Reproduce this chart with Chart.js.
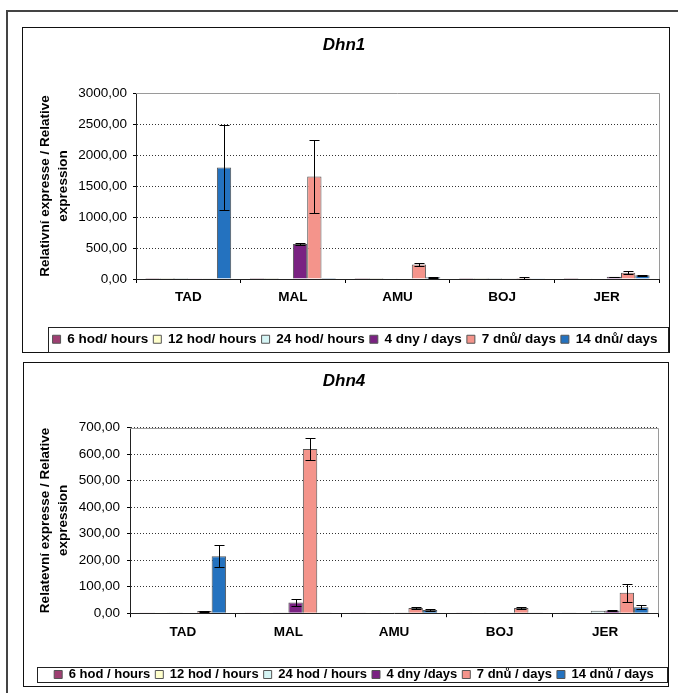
<!DOCTYPE html>
<html>
<head>
<meta charset="utf-8">
<script src="https://cdn.jsdelivr.net/npm/chart.js@4.4.0/dist/chart.umd.min.js"></script>
<style>
body { margin: 0; background: #fff; width: 678px; height: 693px; overflow: hidden; position: relative; }
.frame { position: absolute; left: 6px; top: 10px; width: 720px; height: 720px; border-left: 2px solid #444; border-top: 2px solid #444; }
.panel { position: absolute; box-sizing: border-box; border: 1px solid #111; }
canvas { position: absolute; }
</style>
</head>
<body>
<div class="frame"></div>
<div class="panel" style="left:22px;top:27px;width:648px;height:326px"></div>
<div class="panel" style="left:23px;top:362px;width:646px;height:325px"></div>
<canvas id="dhn1" width="647" height="329" style="left:22px;top:27px"></canvas>
<canvas id="dhn4" width="645" height="329" style="left:23px;top:362px"></canvas>
<script>
const categories = ['TAD', 'MAL', 'AMU', 'BOJ', 'JER'];
const legendDhn1 = ['6 hod/ hours', '12 hod/ hours', '24 hod/ hours', '4 dny / days', '7 dnů/ days', '14 dnů/ days'];
const legendDhn4 = ['6 hod / hours', '12 hod / hours', '24 hod / hours', '4 dny /days', '7 dnů / days', '14 dnů / days'];
const seriesColors = ['#9e3f72', '#ffffcc', '#d5f5f5', '#7a2282', '#f4948b', '#2472bf'];

const dhn1Ticks = [0, 500, 1000, 1500, 2000, 2500, 3000];
const dhn4Ticks = [0, 100, 200, 300, 400, 500, 600, 700];

// Dhn1 - values per category (TAD, MAL, AMU, BOJ, JER)
const dhn1Hod6 = [1, 1, 1, 1, 2];
const dhn1Hod12 = [1, 2, 1, 1, 3];
const dhn1Hod24 = [2, 10, 3, 2, 8];
const dhn1Dny4 = [3, 565, 8, 5, 35];
const dhn1Dny7 = [5, 1655, 235, 15, 100];
const dhn1Dny14 = [1800, 2, 30, 3, 60];
const dhn1ErrDny4 = [0, 20, 0, 0, 5];
const dhn1ErrDny7 = [0, 595, 20, 15, 25];
const dhn1ErrDny14 = [680, 0, 10, 0, 8];

// Dhn4
const dhn4Hod6 = [0.5, 0.5, 0.5, 0.5, 1];
const dhn4Hod12 = [0.5, 0.5, 0.5, 0.5, 2];
const dhn4Hod24 = [1, 1, 0.5, 0.5, 9];
const dhn4Dny4 = [1.5, 40, 1, 1, 10];
const dhn4Dny7 = [8, 620, 20, 20, 77];
const dhn4Dny14 = [215, 1, 12, 1, 22];
const dhn4ErrDny4 = [0, 12, 0, 0, 3];
const dhn4ErrDny7 = [2, 42, 4, 4, 33];
const dhn4ErrDny14 = [42, 0, 2, 0, 8];

const fontFamily = '"Liberation Sans", Arial, sans-serif';

const errorBars = {
    id: 'errorBars',
    afterDatasetsDraw(chart) {
        const { ctx } = chart;
        const y = chart.scales.y;
        ctx.save();
        ctx.strokeStyle = '#000';
        ctx.lineWidth = 1;
        chart.data.datasets.forEach((ds, i) => {
            if (!ds.errors) return;
            chart.getDatasetMeta(i).data.forEach((bar, j) => {
                const e = ds.errors[j];
                if (!e) return;
                const v = ds.data[j];
                const x = Math.round(bar.x) + 0.5;
                const top = Math.round(y.getPixelForValue(v + e)) + 0.5;
                const bot = Math.round(y.getPixelForValue(Math.max(v - e, 0))) + 0.5;
                ctx.beginPath();
                ctx.moveTo(x, top); ctx.lineTo(x, bot);
                ctx.moveTo(x - 5, top); ctx.lineTo(x + 5, top);
                ctx.moveTo(x - 5, bot); ctx.lineTo(x + 5, bot);
                ctx.stroke();
            });
        });
        ctx.restore();
    }
};

const frameBits = {
    id: 'frameBits',
    afterLayout(chart, args, opts) {
        chart.legend.left += opts.legendShift;
        chart.legend.right += opts.legendShift;
    },
    beforeDatasetsDraw(chart) {
        const { ctx, chartArea: a } = chart;
        ctx.save();
        ctx.strokeStyle = '#9a9a9a';
        ctx.lineWidth = 1;
        ctx.beginPath();
        ctx.moveTo(a.left, Math.round(a.top) + 0.5);
        ctx.lineTo(Math.round(a.right) + 0.5, Math.round(a.top) + 0.5);
        ctx.lineTo(Math.round(a.right) + 0.5, a.bottom);
        ctx.stroke();
        ctx.restore();
    },
    afterDraw(chart, args, opts) {
        const b = opts.legendBox;
        const ctx = chart.ctx;
        ctx.save();
        ctx.strokeStyle = '#222';
        ctx.lineWidth = 1;
        ctx.strokeRect(b[0] + 0.5, b[1] + 0.5, b[2] - b[0], b[3] - b[1]);
        ctx.restore();
    }
};

function makeChart(id, s) {
    const datasets = s.labels.map((label, i) => ({
        label: label,
        data: s.values[i],
        errors: s.errors[i],
        backgroundColor: seriesColors[i],
        borderColor: '#555',
        borderWidth: 1,
        categoryPercentage: 0.82,
        barPercentage: 1
    }));

    return new Chart(document.getElementById(id), {
        type: 'bar',
        data: { labels: categories, datasets: datasets },
        plugins: [errorBars, frameBits],
        options: {
            responsive: false,
            animation: false,
            layout: { padding: { left: 7, right: 10, top: 0, bottom: 0 } },
            scales: {
                x: {
                    afterFit: (scale) => { scale.height = s.xHeight; },
                    grid: { display: true, offset: true, drawOnChartArea: false, tickLength: 4, color: '#000' },
                    border: { color: '#222', width: 1 },
                    ticks: { color: '#000', padding: s.xPad, font: { family: fontFamily, size: 13.5, weight: 'bold' } }
                },
                y: {
                    min: 0,
                    max: s.ticks[s.ticks.length - 1],
                    afterFit: (scale) => { scale.width = s.yWidth; },
                    afterBuildTicks: (scale) => { scale.ticks = s.ticks.map(v => ({ value: v })); },
                    grid: { color: '#333', tickLength: 3, tickColor: '#000', tickBorderDash: [] },
                    border: { color: '#222', width: 1, dash: [1, 2] },
                    ticks: {
                        color: '#000',
                        padding: s.yPad,
                        font: { family: fontFamily, size: 13.5 },
                        callback: (v) => Number(v).toFixed(2).replace('.', ',')
                    },
                    title: {
                        display: true,
                        text: s.yTitle,
                        color: '#000',
                        padding: { top: s.yTitlePad, bottom: 0 },
                        font: { family: fontFamily, size: 13.5, weight: 'bold', lineHeight: 1.34 }
                    }
                }
            },
            plugins: {
                title: {
                    display: true,
                    text: s.title,
                    color: '#000',
                    padding: { top: s.titlePad[0], bottom: s.titlePad[1] },
                    font: { family: fontFamily, size: 17, weight: 'bold', style: 'italic', lineHeight: 1.2 }
                },
                legend: {
                    position: 'bottom',
                    labels: {
                        color: '#000',
                        boxWidth: 8,
                        boxHeight: 8,
                        padding: 5,
                        font: { family: fontFamily, size: s.legendSize, weight: 'bold' }
                    }
                },
                tooltip: { enabled: false },
                frameBits: { legendShift: s.legendShift, legendBox: s.legendBox }
            }
        }
    });
}

makeChart('dhn1', {
    title: 'Dhn1',
    labels: legendDhn1,
    values: [dhn1Hod6, dhn1Hod12, dhn1Hod24, dhn1Dny4, dhn1Dny7, dhn1Dny14],
    errors: [null, null, null, dhn1ErrDny4, dhn1ErrDny7, dhn1ErrDny14],
    ticks: dhn1Ticks,
    yTitle: ['Relativní expresse / Relative', 'expression'],
    yTitlePad: 7,
    yWidth: 107,
    yPad: 6,
    xHeight: 48.5,
    xPad: 6,
    titlePad: [7.8, 37.8],
    legendSize: 13.5,
    legendShift: 11,
    legendBox: [26, 300, 646, 325]
});

makeChart('dhn4', {
    title: 'Dhn4',
    labels: legendDhn4,
    values: [dhn4Hod6, dhn4Hod12, dhn4Hod24, dhn4Dny4, dhn4Dny7, dhn4Dny14],
    errors: [null, null, null, dhn4ErrDny4, dhn4ErrDny7, dhn4ErrDny14],
    ticks: dhn4Ticks,
    yTitle: ['Relatevní expresse / Relative', 'expression'],
    yTitlePad: 6,
    yWidth: 100,
    yPad: 7,
    xHeight: 49.8,
    xPad: 7,
    titlePad: [8.8, 36.5],
    legendSize: 13,
    legendShift: 10,
    legendBox: [14, 305, 644, 320]
});
</script>
</body>
</html>
